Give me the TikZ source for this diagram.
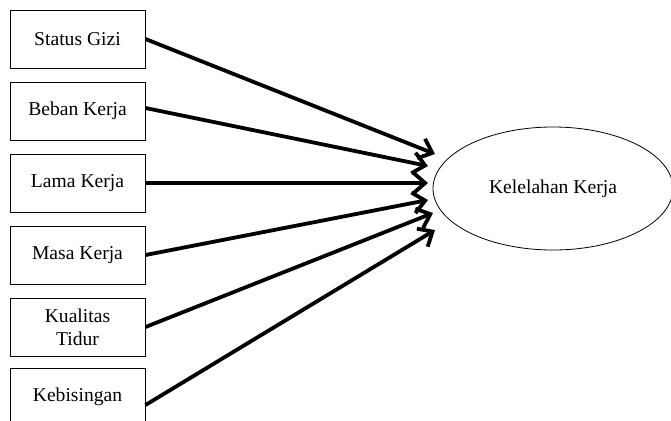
\documentclass[tikz,border=0pt]{standalone}
\usepackage{fontspec}
\setmainfont{Liberation Serif}
\usetikzlibrary{arrows.meta,shapes.geometric}
\begin{document}
\begin{tikzpicture}[x=0.5pt,y=-0.5pt,
    varbox/.style={draw, line width=0.5pt, minimum width=67.5pt, minimum height=29pt,
      inner sep=1pt, align=center, font=\fontsize{9.8}{11.5}\selectfont},
    arr/.style={-{Straight Barb[length=6pt,width=10.5pt]}, line width=1.9pt}]
      \useasboundingbox (0,0) rectangle (671,420);
      \clip (0,0) rectangle (671,420);
      \node[varbox] (gizi) at (77.5,39) {Status Gizi};
      \node[varbox] (beban) at (77.5,111) {Beban Kerja};
      \node[varbox] (lama) at (77.5,183) {Lama Kerja};
      \node[varbox] (masa) at (77.5,255) {Masa Kerja};
      \node[varbox] (tidur) at (77.5,327) {Kualitas\\Tidur};
      \node[varbox] (bising) at (77.5,397) {Kebisingan};
      \node[draw, ellipse, line width=0.4pt, minimum width=120pt, minimum height=61.5pt,
        font=\fontsize{9.8}{11.5}\selectfont] (lelah) at (553,188.5) {Kelelahan Kerja};
      \coordinate (t1) at (435,154);
      \coordinate (t2) at (428,166);
      \coordinate (t3) at (428,183);
      \coordinate (t4) at (428,200);
      \coordinate (t5) at (433,213);
      \coordinate (t6) at (435,230);
      \draw[arr] (gizi.east) -- (t1);
      \draw[arr] ([yshift=1.5pt]beban.east) -- (t2);
      \draw[arr] (lama.east) -- (t3);
      \draw[arr] (masa.east) -- (t4);
      \draw[arr] (tidur.east) -- (t5);
      \draw[arr] ([yshift=-4pt]bising.east) -- (t6);
    \end{tikzpicture}
\end{document}
